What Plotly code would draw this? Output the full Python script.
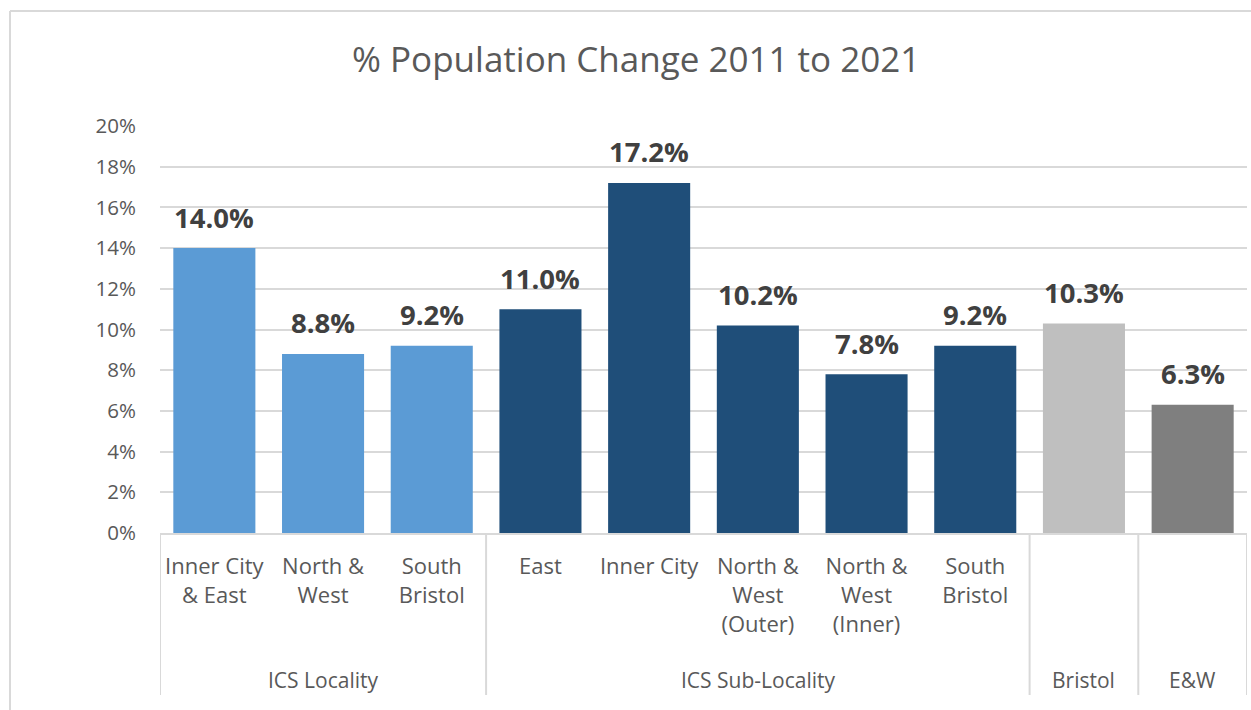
import plotly.graph_objects as go

# Population change data
categories = ["Inner City<br>& East", "North &<br>West", "South<br>Bristol",
              "East", "Inner City", "North &<br>West<br>(Outer)", "North &<br>West<br>(Inner)",
              "South<br>Bristol", "", ""]
groups = ["ICS Locality", "ICS Sub-Locality", "Bristol", "E&W"]
group_spans = [(0, 2), (3, 7), (8, 8), (9, 9)]
values = [0.140, 0.088, 0.092, 0.110, 0.172, 0.102, 0.078, 0.092, 0.103, 0.063]
bar_colors = ["#5B9BD5"] * 3 + ["#1F4E79"] * 5 + ["#BFBFBF", "#7F7F7F"]
y_ticks = [0, 0.02, 0.04, 0.06, 0.08, 0.10, 0.12, 0.14, 0.16, 0.18, 0.20]

positions = list(range(len(values)))
FONT = "Open Sans"
GRID = "#D9D9D9"

fig = go.Figure()
fig.add_trace(go.Bar(
    x=positions, y=values, marker=dict(color=bar_colors, line=dict(width=0)),
    hoverinfo="skip",
))

annotations = []
# value labels above bars
for xi, v in zip(positions, values):
    annotations.append(dict(
        x=xi, y=v, xref="x", yref="y", text=f"{v*100:.1f}%", showarrow=False,
        yanchor="middle", yshift=31,
        font=dict(family=FONT, size=27.5, color="#404040", weight="bold"),
    ))
# group labels under the category labels
for name, (a, b) in zip(groups, group_spans):
    annotations.append(dict(
        x=(a + b) / 2, y=-0.361, xref="x", yref="paper", text=name, showarrow=False,
        yanchor="middle", font=dict(family=FONT, size=21, color="#595959"),
    ))

shapes = []
# group dividers below the axis
for xd in [-0.5, 2.5, 7.5, 8.5, 9.5]:
    shapes.append(dict(type="line", xref="x", yref="paper", x0=xd, x1=xd, y0=0, y1=-0.398,
                       line=dict(color=GRID, width=2)))
# chart frame
shapes.append(dict(type="line", xref="paper", yref="paper", x0=-0.138, x1=1.01, y0=1.2826, y1=1.2826,
                   line=dict(color=GRID, width=2)))
shapes.append(dict(type="line", xref="paper", yref="paper", x0=-0.138, x1=-0.138, y0=1.2826, y1=-0.45,
                   line=dict(color=GRID, width=2)))

fig.update_layout(
    width=1251, height=710,
    margin=dict(l=160, r=4, t=126, b=177),
    paper_bgcolor="white", plot_bgcolor="white",
    showlegend=False, bargap=0.245,
    title=dict(text="% Population Change 2011 to 2021", x=0.5085, xref="container", xanchor="center",
               y=1 - 60 / 710, yref="container", yanchor="middle",
               font=dict(family=FONT, size=35, color="#595959")),
    annotations=annotations, shapes=shapes,
    xaxis=dict(range=[-0.5, 9.5], tickmode="array", tickvals=positions, ticktext=categories,
               showgrid=False, zeroline=False, showline=True, linecolor=GRID, linewidth=2,
               ticks="", ticklabelstandoff=13,
               tickfont=dict(family=FONT, size=22, color="#595959"), fixedrange=True),
    yaxis=dict(range=[0, 0.20], tickmode="array", tickvals=y_ticks, tickformat=".0%",
               showgrid=True, gridcolor=GRID, gridwidth=1.6, zeroline=False, showline=False,
               ticks="", ticklabelstandoff=23,
               tickfont=dict(family=FONT, size=20.5, color="#595959"), fixedrange=True),
)

fig.write_html("out.html")
